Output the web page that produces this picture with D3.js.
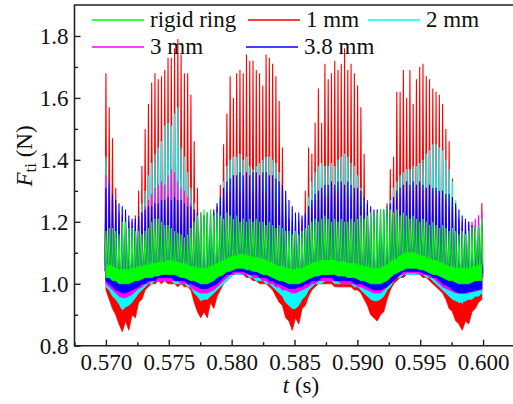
<!DOCTYPE html>
<html>
<head>
<meta charset="utf-8">
<script src="https://cdn.jsdelivr.net/npm/d3@7"></script>
<style>
body{margin:0;background:#fff}
</style>
</head>
<body>
<div id="chart"></div>
<script>
// time grid of the force cycles
const t0 = 0.570, dt = 0.00026

const names  = ["rigid ring","1 mm","2 mm","3 mm","3.8 mm"]
const colors = ["#00ff00","#ff0000","#00ffff","#ff00ff","#0000ff"]

const xTicks = [0.570,0.575,0.580,0.585,0.590,0.595,0.600]
const yTicks = [0.8,1.0,1.2,1.4,1.6,1.8]

// 1 mm (red): peak, trough and top of the dense band of each cycle
const redHi = [1.68,1.57,1.47,1.31,1.20,1.16,1.15,1.14,1.16,1.22,
  1.30,1.38,1.50,1.58,1.65,1.68,1.66,1.67,1.69,1.73,
  1.73,1.76,1.79,1.74,1.68,1.68,1.61,1.46,1.31,1.20,
  1.15,1.14,1.16,1.18,1.25,1.32,1.45,1.55,1.67,1.60,
  1.68,1.69,1.68,1.74,1.72,1.72,1.69,1.68,1.64,1.74,
  1.73,1.71,1.67,1.59,1.44,1.26,1.18,1.15,1.14,1.16,
  1.19,1.30,1.44,1.42,1.52,1.63,1.52,1.71,1.66,1.68,
  1.72,1.69,1.71,1.76,1.69,1.71,1.68,1.64,1.57,1.42,
  1.27,1.19,1.16,1.14,1.15,1.18,1.26,1.37,1.41,1.62,
  1.62,1.69,1.60,1.69,1.58,1.66,1.70,1.71,1.67,1.66,
  1.63,1.62,1.61,1.58,1.50,1.46,1.34,1.24,1.18,1.15,
  1.14,1.15,1.17,1.19,1.22,1.26]
const redLo = [0.98,0.95,0.92,0.90,0.87,0.845,0.88,0.85,0.90,0.89,
  0.94,0.95,0.98,0.99,1.00,1.00,1.01,1.00,1.01,1.00,
  1.00,1.00,0.99,1.00,0.99,0.99,0.98,0.94,0.91,0.89,
  0.91,0.89,0.94,0.92,0.96,0.98,1.00,1.01,1.02,1.03,
  1.03,1.03,1.03,1.02,1.02,1.01,1.01,1.00,1.00,1.00,
  0.99,0.98,0.96,0.94,0.93,0.89,0.88,0.85,0.89,0.87,
  0.92,0.93,0.96,0.98,0.99,1.00,1.00,1.00,1.00,1.00,
  0.99,0.99,0.99,0.99,0.99,0.99,0.98,0.98,0.97,0.95,
  0.93,0.90,0.89,0.88,0.90,0.91,0.95,0.98,1.00,1.01,
  1.02,1.02,1.03,1.03,1.03,1.03,1.03,1.02,1.02,1.01,
  1.00,0.99,0.98,0.97,0.95,0.92,0.91,0.88,0.87,0.85,
  0.88,0.87,0.91,0.92,0.94,0.95]
const redMid = [1.04,1.02,1.00,0.97,0.96,0.93,0.94,0.94,0.96,0.97,
  1.00,1.02,1.04,1.05,1.06,1.06,1.07,1.06,1.07,1.06,
  1.06,1.06,1.05,1.06,1.05,1.05,1.04,1.01,0.99,0.97,
  0.97,0.97,0.99,1.00,1.02,1.04,1.06,1.07,1.08,1.09,
  1.09,1.09,1.09,1.08,1.08,1.07,1.07,1.06,1.06,1.06,
  1.05,1.04,1.03,1.02,1.00,0.98,0.95,0.93,0.95,0.96,
  0.99,1.00,1.02,1.04,1.05,1.06,1.06,1.06,1.06,1.06,
  1.05,1.05,1.05,1.05,1.05,1.05,1.04,1.04,1.03,1.02,
  0.99,0.98,0.96,0.96,0.97,0.99,1.01,1.04,1.06,1.07,
  1.08,1.08,1.09,1.09,1.09,1.09,1.09,1.08,1.08,1.07,
  1.06,1.05,1.04,1.03,1.02,1.00,0.98,0.97,0.94,0.93,
  0.95,0.96,0.98,0.99,1.01,1.02]

// 2 mm (cyan)
const cyanHi = [1.41,1.33,1.27,1.23,1.20,1.18,1.17,1.17,1.18,1.19,
  1.22,1.26,1.30,1.35,1.39,1.42,1.44,1.46,1.51,1.52,
  1.51,1.55,1.57,1.44,1.41,1.36,1.31,1.26,1.22,1.19,
  1.17,1.17,1.18,1.20,1.24,1.28,1.33,1.38,1.40,1.41,
  1.41,1.42,1.40,1.41,1.38,1.37,1.38,1.39,1.40,1.41,
  1.41,1.40,1.39,1.36,1.31,1.25,1.20,1.17,1.16,1.17,
  1.19,1.23,1.28,1.33,1.36,1.38,1.39,1.38,1.38,1.39,
  1.38,1.40,1.41,1.42,1.41,1.39,1.38,1.35,1.31,1.27,
  1.22,1.19,1.17,1.16,1.17,1.19,1.23,1.27,1.31,1.33,
  1.35,1.36,1.37,1.37,1.38,1.38,1.39,1.40,1.42,1.43,
  1.45,1.45,1.44,1.43,1.40,1.37,1.33,1.27,1.22,1.19,
  1.17,1.17,1.18,1.19,1.20,1.22]
const cyanLo = [0.99,0.98,0.96,0.95,0.935,0.915,0.925,0.93,0.94,0.955,
  0.97,0.98,0.99,1.00,1.00,1.01,1.01,1.01,1.01,1.01,
  1.01,1.00,1.00,1.00,1.00,0.99,0.99,0.97,0.96,0.945,
  0.95,0.95,0.96,0.97,0.98,0.99,1.00,1.01,1.02,1.03,
  1.03,1.03,1.03,1.03,1.02,1.02,1.01,1.01,1.01,1.00,
  1.00,0.99,0.98,0.97,0.96,0.94,0.93,0.92,0.92,0.93,
  0.95,0.96,0.98,0.99,1.00,1.00,1.00,1.01,1.01,1.01,
  1.00,1.00,1.00,1.00,1.00,1.00,0.99,0.99,0.98,0.97,
  0.96,0.95,0.945,0.945,0.95,0.96,0.98,0.99,1.01,1.02,
  1.02,1.03,1.03,1.03,1.03,1.03,1.03,1.03,1.02,1.02,
  1.01,1.00,0.99,0.98,0.97,0.96,0.95,0.945,0.94,0.94,
  0.945,0.95,0.95,0.96,0.96,0.97]
const cyanMid = [1.04,1.03,1.01,1.00,0.98,0.97,0.97,0.98,0.99,1.00,
  1.02,1.03,1.04,1.05,1.05,1.06,1.06,1.06,1.06,1.06,
  1.06,1.05,1.05,1.05,1.05,1.04,1.04,1.02,1.01,1.00,
  1.00,1.00,1.01,1.02,1.03,1.04,1.05,1.06,1.07,1.08,
  1.08,1.08,1.08,1.08,1.07,1.07,1.06,1.06,1.06,1.05,
  1.05,1.04,1.03,1.02,1.01,0.99,0.98,0.97,0.97,0.98,
  1.00,1.01,1.03,1.04,1.05,1.05,1.05,1.06,1.06,1.06,
  1.05,1.05,1.05,1.05,1.05,1.05,1.04,1.04,1.03,1.02,
  1.01,1.00,0.995,0.995,1.00,1.01,1.03,1.04,1.06,1.07,
  1.07,1.08,1.08,1.08,1.08,1.08,1.08,1.08,1.07,1.07,
  1.06,1.05,1.04,1.03,1.02,1.01,1.00,0.995,0.99,0.99,
  0.995,1.00,1.00,1.01,1.01,1.02]

// 3 mm (magenta)
const magHi = [1.35,1.30,1.27,1.25,1.23,1.22,1.21,1.20,1.20,1.20,
  1.21,1.23,1.25,1.27,1.29,1.31,1.32,1.33,1.32,1.35,
  1.37,1.36,1.33,1.31,1.30,1.28,1.26,1.24,1.23,1.22,
  1.22,1.22,1.23,1.23,1.24,1.25,1.27,1.29,1.30,1.30,
  1.31,1.30,1.30,1.30,1.29,1.30,1.29,1.30,1.29,1.29,
  1.28,1.27,1.26,1.25,1.24,1.22,1.21,1.20,1.20,1.20,
  1.21,1.22,1.24,1.25,1.27,1.27,1.28,1.28,1.29,1.29,
  1.29,1.30,1.29,1.29,1.28,1.28,1.27,1.26,1.25,1.24,
  1.23,1.22,1.21,1.21,1.21,1.22,1.23,1.25,1.27,1.28,
  1.29,1.30,1.30,1.31,1.30,1.31,1.31,1.30,1.31,1.31,
  1.30,1.30,1.29,1.28,1.27,1.25,1.24,1.22,1.21,1.20,
  1.20,1.20,1.20,1.21,1.22,1.23]
const magLo = [1.00,0.99,0.98,0.97,0.96,0.955,0.955,0.96,0.965,0.975,
  0.985,0.99,1.00,1.00,1.01,1.01,1.01,1.01,1.01,1.01,
  1.01,1.01,1.01,1.00,1.00,1.00,0.99,0.98,0.975,0.97,
  0.97,0.97,0.975,0.98,0.99,1.00,1.01,1.02,1.03,1.03,
  1.035,1.035,1.03,1.03,1.03,1.02,1.02,1.02,1.01,1.01,
  1.00,1.00,0.99,0.99,0.98,0.98,0.975,0.97,0.97,0.975,
  0.98,0.985,0.99,1.00,1.00,1.01,1.01,1.01,1.01,1.01,
  1.01,1.01,1.00,1.00,1.00,1.00,1.00,0.99,0.99,0.985,
  0.98,0.975,0.97,0.97,0.97,0.98,0.99,1.00,1.01,1.02,
  1.03,1.03,1.035,1.035,1.035,1.035,1.03,1.03,1.03,1.02,
  1.02,1.01,1.00,0.99,0.985,0.98,0.975,0.97,0.97,0.97,
  0.97,0.97,0.975,0.975,0.98,0.98]
const magMid = [1.04,1.03,1.02,1.01,1.00,0.995,0.995,1.00,1.005,1.015,
  1.025,1.03,1.04,1.04,1.05,1.05,1.05,1.05,1.05,1.05,
  1.05,1.05,1.05,1.04,1.04,1.04,1.03,1.02,1.015,1.01,
  1.01,1.01,1.015,1.02,1.03,1.04,1.05,1.06,1.07,1.07,
  1.075,1.075,1.07,1.07,1.07,1.06,1.06,1.06,1.05,1.05,
  1.04,1.04,1.03,1.03,1.02,1.02,1.015,1.01,1.01,1.015,
  1.02,1.025,1.03,1.04,1.04,1.05,1.05,1.05,1.05,1.05,
  1.05,1.05,1.04,1.04,1.04,1.04,1.04,1.03,1.03,1.025,
  1.02,1.015,1.01,1.01,1.01,1.02,1.03,1.04,1.05,1.06,
  1.07,1.07,1.075,1.075,1.075,1.075,1.07,1.07,1.07,1.06,
  1.06,1.05,1.04,1.03,1.025,1.02,1.015,1.01,1.01,1.01,
  1.01,1.01,1.015,1.015,1.02,1.02]

// 3.8 mm (blue)
const blueHi = [1.31,1.33,1.29,1.27,1.26,1.25,1.24,1.22,1.21,1.21,
  1.22,1.23,1.24,1.25,1.25,1.26,1.26,1.27,1.27,1.28,
  1.27,1.28,1.27,1.27,1.26,1.25,1.25,1.24,1.23,1.23,
  1.22,1.23,1.23,1.24,1.26,1.28,1.31,1.33,1.34,1.35,
  1.35,1.36,1.35,1.36,1.35,1.36,1.36,1.35,1.36,1.36,
  1.35,1.35,1.34,1.33,1.32,1.30,1.27,1.25,1.23,1.23,
  1.22,1.23,1.25,1.27,1.29,1.30,1.31,1.32,1.32,1.33,
  1.32,1.33,1.33,1.32,1.33,1.32,1.31,1.31,1.30,1.28,
  1.26,1.25,1.24,1.24,1.24,1.24,1.25,1.26,1.28,1.30,
  1.31,1.32,1.33,1.32,1.33,1.32,1.33,1.32,1.31,1.32,
  1.31,1.31,1.30,1.30,1.29,1.29,1.28,1.26,1.24,1.22,
  1.21,1.20,1.19,1.18,1.18,1.19]
const blueLo = [1.01,1.00,0.99,0.98,0.975,0.97,0.97,0.975,0.98,0.985,
  0.99,1.00,1.00,1.01,1.01,1.01,1.02,1.02,1.02,1.02,
  1.02,1.01,1.01,1.01,1.01,1.00,1.00,0.995,0.99,0.985,
  0.985,0.985,0.99,0.995,1.00,1.01,1.02,1.03,1.03,1.04,
  1.04,1.04,1.04,1.035,1.03,1.03,1.03,1.02,1.02,1.02,
  1.01,1.01,1.00,1.00,0.995,0.99,0.985,0.985,0.985,0.99,
  0.99,1.00,1.00,1.01,1.01,1.01,1.02,1.02,1.02,1.02,
  1.01,1.01,1.01,1.01,1.01,1.01,1.00,1.00,1.00,0.995,
  0.99,0.985,0.98,0.98,0.98,0.985,0.99,1.00,1.01,1.02,
  1.03,1.04,1.04,1.04,1.04,1.04,1.04,1.035,1.03,1.03,
  1.02,1.02,1.01,1.00,0.995,0.99,0.98,0.975,0.97,0.97,
  0.97,0.975,0.975,0.98,0.98,0.985]
const blueMid = [1.06,1.05,1.04,1.03,1.025,1.02,1.02,1.025,1.03,1.035,
  1.04,1.05,1.05,1.06,1.06,1.06,1.07,1.07,1.07,1.07,
  1.07,1.06,1.06,1.06,1.06,1.05,1.05,1.045,1.04,1.035,
  1.035,1.035,1.04,1.045,1.05,1.06,1.07,1.08,1.08,1.09,
  1.09,1.09,1.09,1.085,1.08,1.08,1.08,1.07,1.07,1.07,
  1.06,1.06,1.05,1.05,1.045,1.04,1.035,1.035,1.035,1.04,
  1.04,1.05,1.05,1.06,1.06,1.06,1.07,1.07,1.07,1.07,
  1.06,1.06,1.06,1.06,1.06,1.06,1.05,1.05,1.05,1.045,
  1.04,1.035,1.03,1.03,1.03,1.035,1.04,1.05,1.06,1.07,
  1.08,1.09,1.09,1.09,1.09,1.09,1.09,1.085,1.08,1.08,
  1.07,1.07,1.06,1.05,1.045,1.04,1.03,1.025,1.02,1.02,
  1.02,1.025,1.025,1.03,1.03,1.035]

// rigid ring (green)
const greenHi = [1.17,1.18,1.18,1.17,1.16,1.20,1.20,1.18,1.18,1.17,
  1.17,1.16,1.17,1.18,1.20,1.21,1.21,1.20,1.19,1.19,
  1.18,1.17,1.165,1.16,1.15,1.16,1.18,1.20,1.22,1.23,
  1.24,1.23,1.24,1.22,1.23,1.22,1.21,1.23,1.22,1.21,
  1.22,1.20,1.21,1.20,1.21,1.20,1.21,1.20,1.20,1.19,
  1.20,1.19,1.18,1.19,1.18,1.17,1.17,1.16,1.17,1.16,
  1.17,1.18,1.19,1.20,1.21,1.20,1.21,1.22,1.21,1.20,
  1.21,1.20,1.21,1.20,1.20,1.21,1.20,1.21,1.22,1.21,
  1.22,1.23,1.22,1.23,1.24,1.24,1.25,1.24,1.23,1.24,
  1.22,1.23,1.22,1.21,1.22,1.21,1.20,1.21,1.20,1.19,
  1.20,1.19,1.18,1.19,1.18,1.17,1.18,1.17,1.16,1.17,
  1.16,1.17,1.18,1.18,1.19,1.21]
const greenLo = [1.02,1.02,1.01,1.01,1.00,1.00,1.00,1.00,1.005,1.01,
  1.01,1.015,1.02,1.02,1.02,1.025,1.025,1.03,1.03,1.03,
  1.03,1.03,1.025,1.02,1.02,1.015,1.01,1.01,1.005,1.00,
  1.00,1.00,1.005,1.01,1.02,1.025,1.03,1.04,1.04,1.045,
  1.05,1.05,1.05,1.045,1.045,1.04,1.04,1.035,1.03,1.03,
  1.025,1.02,1.015,1.01,1.01,1.005,1.00,1.00,1.00,1.00,
  1.005,1.01,1.015,1.02,1.025,1.025,1.03,1.03,1.03,1.03,
  1.03,1.025,1.025,1.025,1.02,1.02,1.02,1.015,1.01,1.01,
  1.005,1.00,1.00,1.00,1.00,1.005,1.01,1.02,1.03,1.035,
  1.04,1.045,1.05,1.05,1.05,1.05,1.045,1.045,1.04,1.035,
  1.03,1.03,1.025,1.02,1.015,1.01,1.01,1.005,1.00,1.00,
  1.00,1.00,1.005,1.01,1.01,1.01]
const greenMid = [1.06,1.06,1.055,1.05,1.045,1.045,1.045,1.045,1.05,1.05,
  1.055,1.055,1.06,1.06,1.065,1.065,1.07,1.07,1.07,1.075,
  1.075,1.07,1.07,1.065,1.065,1.06,1.055,1.055,1.05,1.05,
  1.05,1.05,1.055,1.06,1.065,1.07,1.075,1.08,1.085,1.09,
  1.09,1.095,1.095,1.09,1.09,1.085,1.085,1.08,1.08,1.075,
  1.07,1.065,1.06,1.055,1.055,1.05,1.05,1.045,1.045,1.05,
  1.05,1.055,1.06,1.065,1.07,1.07,1.075,1.075,1.075,1.075,
  1.075,1.07,1.07,1.07,1.065,1.065,1.065,1.06,1.06,1.055,
  1.055,1.05,1.05,1.05,1.05,1.055,1.06,1.07,1.075,1.08,
  1.09,1.095,1.10,1.10,1.10,1.095,1.09,1.09,1.085,1.08,
  1.075,1.075,1.07,1.065,1.06,1.055,1.055,1.05,1.05,1.05,
  1.05,1.05,1.055,1.055,1.06,1.06]

const series = [
  {name:names[0], color:colors[0], hi:greenHi, lo:greenLo, mid:greenMid},
  {name:names[1], color:colors[1], hi:redHi,   lo:redLo,   mid:redMid},
  {name:names[2], color:colors[2], hi:cyanHi,  lo:cyanLo,  mid:cyanMid},
  {name:names[3], color:colors[3], hi:magHi,   lo:magLo,   mid:magMid},
  {name:names[4], color:colors[4], hi:blueHi,  lo:blueLo,  mid:blueMid}
]
// painting order: 1 mm at the back, rigid ring in front
const drawOrder = [1,2,3,4,0]

const W = 513, H = 404
const svg = d3.select("#chart")
  .append("svg")
    .attr("width", W)
    .attr("height", H)

const x = d3.scaleLinear().domain([0.5675,0.6025]).range([74.5,514.5])
const y = d3.scaleLinear().domain([0.8,1.9]).range([345.7,5])

svg.append("clipPath")
  .attr("id","plot-clip")
  .append("rect")
    .attr("x",74.5)
    .attr("y",5)
    .attr("width",440)
    .attr("height",340.7)

const plot = svg.append("g").attr("clip-path","url(#plot-clip)")
const w = dt*0.28

drawOrder.forEach(k => {
  const s = series[k]
  const n = Math.min(s.hi.length, s.lo.length, s.mid.length)
  const cyc = d3.range(n).map(i => ({t:t0+i*dt, hi:s.hi[i], lo:s.lo[i], mid:s.mid[i]}))

  // dense band at the bottom of each cycle
  plot.append("path")
    .datum(cyc)
    .attr("d", d3.area().x(d => x(d.t)).y0(d => y(d.lo)).y1(d => y(d.mid)))
    .style("fill", s.color)
    .style("stroke", s.color)
    .style("stroke-width", 0.8)

  // the sharp peak of each cycle
  const pts = cyc.flatMap(d => [[d.t-w, d.mid],[d.t, d.hi],[d.t+w, d.mid]])
  plot.append("path")
    .datum(pts)
    .attr("d", d3.line().x(d => x(d[0])).y(d => y(d[1])))
    .style("fill","none")
    .style("stroke", s.color)
    .style("stroke-width", 1.1)
})

//x axis
const gx = svg.append("g")
  .attr("transform","translate(0,345.7)")
  .call(d3.axisBottom(x)
    .tickValues(xTicks)
    .tickSize(-6)
    .tickPadding(8)
    .tickFormat(d3.format(".3f")))
  .call(g => g.select(".domain").remove())
gx.selectAll("text")
  .style("font-family","Liberation Serif")
  .style("font-size","23px")
svg.append("g")
  .attr("transform","translate(0,345.7)")
  .call(d3.axisBottom(x)
    .tickValues(d3.range(0.5675,0.603,0.005))
    .tickSize(-3.5)
    .tickFormat(""))
  .call(g => g.select(".domain").remove())

//y axis
const gy = svg.append("g")
  .attr("transform","translate(74.5,0)")
  .call(d3.axisLeft(y)
    .tickValues(yTicks)
    .tickSize(-6)
    .tickPadding(6)
    .tickFormat(d3.format(".1f")))
  .call(g => g.select(".domain").remove())
gy.selectAll("text")
  .style("font-family","Liberation Serif")
  .style("font-size","23px")
svg.append("g")
  .attr("transform","translate(74.5,0)")
  .call(d3.axisLeft(y)
    .tickValues([0.9,1.1,1.3,1.5,1.7])
    .tickSize(-3.5)
    .tickFormat(""))
  .call(g => g.select(".domain").remove())

svg.selectAll(".tick line").style("stroke","#222").style("stroke-width",1.4)
svg.selectAll(".tick text").style("fill","#111")

// frame
svg.append("path")
  .attr("d","M514.5,5H74.5V345.7H514.5")
  .style("fill","none")
  .style("stroke","#222")
  .style("stroke-width",1.6)

// axis titles
const xt = svg.append("text")
  .attr("x",301)
  .attr("y",393)
  .attr("text-anchor","middle")
  .style("font-family","Liberation Serif")
  .style("font-size","23px")
  .style("fill","#111")
xt.append("tspan").style("font-family","Liberation Serif").style("font-style","italic").text("t")
xt.append("tspan").style("font-family","Liberation Serif").text(" (s)")

const yt = svg.append("text")
  .attr("transform","translate(32,156) rotate(-90)")
  .attr("text-anchor","middle")
  .style("font-family","Liberation Serif")
  .style("font-size","23px")
  .style("fill","#111")
yt.append("tspan").style("font-family","Liberation Serif").style("font-style","italic").text("F")
yt.append("tspan").attr("dy",4).style("font-family","Liberation Serif").style("font-size","17px").text("ti")
yt.append("tspan").attr("dy",-4).style("font-family","Liberation Serif").text(" (N)")

// legend
const legendPos = [[92,20],[248,20],[368,20],[92,47],[246,47]]
series.forEach((s,i) => {
  const [lx,ly] = legendPos[i]
  svg.append("line")
    .attr("x1",lx).attr("x2",lx+52)
    .attr("y1",ly).attr("y2",ly)
    .style("stroke",s.color)
    .style("stroke-width",1.3)
  svg.append("text")
    .attr("x",lx+58)
    .attr("y",ly+6.5)
    .style("font-family","Liberation Serif")
    .style("font-size","23px")
    .style("fill","#111")
    .text(s.name)
})
</script>
</body>
</html>
